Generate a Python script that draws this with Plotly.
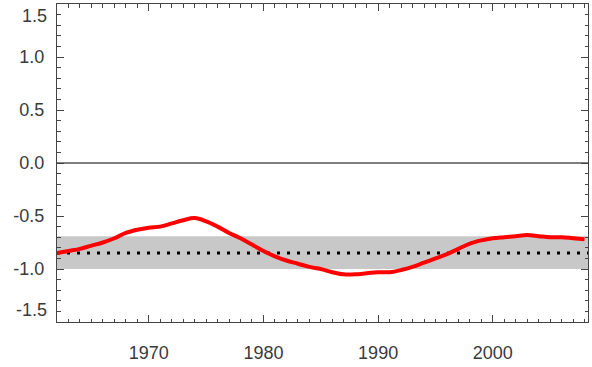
import plotly.graph_objects as go

years = list(range(1962, 2009))
values = [-0.85, -0.83, -0.81, -0.78, -0.75, -0.71, -0.66, -0.63, -0.61, -0.60,
          -0.57, -0.54, -0.52, -0.55, -0.60, -0.66, -0.71, -0.77, -0.83, -0.88,
          -0.92, -0.95, -0.98, -1.00, -1.03, -1.05, -1.05, -1.04, -1.03, -1.03,
          -1.01, -0.98, -0.94, -0.90, -0.86, -0.81, -0.76, -0.73, -0.71, -0.70,
          -0.69, -0.68, -0.69, -0.70, -0.70, -0.71, -0.72]
band_low = -1.0
band_high = -0.69
mean_level = -0.85
x_ticks = [1970, 1980, 1990, 2000]
y_ticks = [-1.5, -1.0, -0.5, 0.0, 0.5, 1.0, 1.5]
y_tick_text = ["", "-1.0", "-0.5", "0.0", "0.5", "1.0", ""]
edge_labels = [(1.5, "1.5", "top"), (-1.5, "-1.5", "bottom")]

fig = go.Figure()
fig.add_trace(go.Scatter(x=years, y=values, mode="lines",
                         line=dict(color="#ff0000", width=4, shape="spline", smoothing=1.0),
                         showlegend=False, hoverinfo="skip"))

fig.add_shape(type="rect", xref="paper", yref="y", x0=0, x1=1,
              y0=band_low, y1=band_high, fillcolor="#c8c8c8",
              line=dict(width=0), layer="below")
fig.add_shape(type="line", xref="paper", yref="y", x0=0, x1=1,
              y0=mean_level, y1=mean_level,
              line=dict(color="black", width=3, dash="3px,7px"), layer="below")
fig.add_shape(type="line", xref="paper", yref="y", x0=0, x1=1,
              y0=0, y1=0, line=dict(color="black", width=1), layer="below")

text_color = "#3a3a3a"
axis_font = dict(family="Liberation Sans, Arial, Helvetica, sans-serif", size=18, color=text_color)
for val, txt, anchor in edge_labels:
    fig.add_annotation(x=0, xref="paper", y=val, yref="y", text=txt, showarrow=False,
                       xanchor="right", yanchor=anchor, xshift=-8, font=axis_font)

fig.update_xaxes(range=[1962, 2008.3], tickvals=x_ticks, ticks="inside", ticklen=7,
                 tickcolor="#444444", showline=True, linecolor="#444444", linewidth=1,
                 mirror="allticks", showgrid=False, zeroline=False, automargin=False,
                 tickfont=axis_font, ticklabelstandoff=14,
                 minor=dict(dtick=1, ticks="inside", ticklen=3.5, tickcolor="#444444", showgrid=False))
fig.update_yaxes(range=[-1.5, 1.5], tickvals=y_ticks, ticktext=y_tick_text,
                 ticks="inside", ticklen=7,
                 tickcolor="#444444", showline=True, linecolor="#444444", linewidth=1,
                 mirror="allticks", showgrid=False, zeroline=False, automargin=False,
                 tickfont=axis_font, ticklabelstandoff=8,
                 minor=dict(dtick=0.1, ticks="inside", ticklen=3.5, tickcolor="#444444", showgrid=False))

fig.update_layout(width=592, height=367, margin=dict(l=57, r=4, t=4, b=45),
                  plot_bgcolor="white", paper_bgcolor="white")
fig.write_html("out.html", config={"displayModeBar": False},
               post_script="document.body.style.margin='0px';")
